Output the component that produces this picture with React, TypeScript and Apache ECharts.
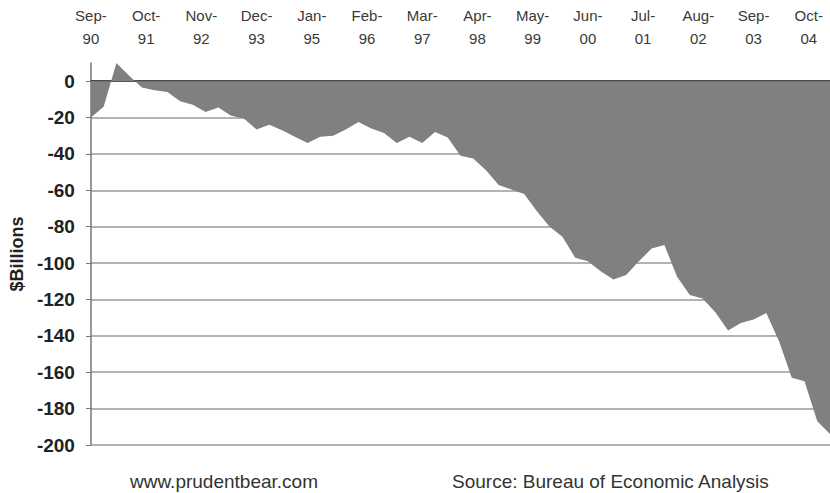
import React, { useEffect, useRef } from "react";
import * as echarts from "echarts";

const MONTHS = ["Jan", "Feb", "Mar", "Apr", "May", "Jun", "Jul", "Aug", "Sep", "Oct", "Nov", "Dec"];
const START_YEAR = 1990;
const START_MONTH = 8; // Sep
const MONTH_COUNT = 175; // Sep-90 .. Mar-05

// monthly category axis (labels every 13 months, as in the original)
const categories: string[] = Array.from({ length: MONTH_COUNT }, (_, i) => {
  const m = (START_MONTH + i) % 12;
  const y = START_YEAR + Math.floor((START_MONTH + i) / 12);
  return `${MONTHS[m]}-\n${String(y % 100).padStart(2, "0")}`;
});

// quarterly values ($ billions), Sep-90 .. Mar-05
const quarterlyValues: number[] = [
  -20, -14, 10, 3, -3.5, -5, -6, -11, -13, -17,
  -14.5, -19, -20.5, -26.5, -24, -27, -30.5, -34, -30.5, -30,
  -26.5, -22.5, -26, -28.5, -34, -30.5, -34, -28, -31, -41,
  -42.5, -49, -57, -59.5, -62, -71.5, -80, -85.5, -97, -99,
  -104.5, -109, -106.5, -99, -92, -90, -107.5, -117.5, -119.5, -127,
  -137, -133, -131, -127.5, -143, -163, -165, -187, -194,
];
const QUARTER_STEP = 3;

const yTickValues = [-200, -180, -160, -140, -120, -100, -80, -60, -40, -20, 0];

const FONT = "'Liberation Sans', Arial, sans-serif";

export default function App() {
  const ref = useRef<HTMLDivElement>(null);
  useEffect(() => {
    if (!ref.current) return;
    const chart = echarts.init(ref.current, undefined, { renderer: "svg" });
    const seriesData: (number | null)[] = categories.map(() => null);
    quarterlyValues.forEach((v, k) => {
      seriesData[k * QUARTER_STEP] = v;
    });
    const splitColors = Array.from({ length: 12 }, (_, i) => (i < 11 ? "#9a9a9a" : "rgba(0,0,0,0)"));
    chart.setOption({
      animation: false,
      backgroundColor: "#ffffff",
      grid: { left: 85, right: 0, top: 63, bottom: 48, containLabel: false },
      xAxis: [
        {
          type: "category",
          data: categories,
          position: "top",
          boundaryGap: false,
          axisLine: { show: false, onZero: false },
          axisTick: { show: false },
          axisLabel: {
            interval: 12,
            margin: 13,
            color: "#3a3a3a",
            fontFamily: FONT,
            fontSize: 15,
            lineHeight: 23,
          },
          splitLine: { show: false },
        },
        {
          type: "category",
          data: categories,
          position: "bottom",
          boundaryGap: false,
          axisLine: { show: true, onZero: true, lineStyle: { color: "#4a4a4a", width: 2 } },
          axisTick: { show: true, interval: 12, length: 4, lineStyle: { color: "#4a4a4a", width: 1 } },
          axisLabel: { show: false },
          splitLine: { show: false },
        },
      ],
      yAxis: {
        type: "value",
        min: -200,
        max: 10,
        interval: 20,
        name: "$Billions",
        nameLocation: "middle",
        nameRotate: 90,
        nameGap: 62,
        nameTextStyle: { fontFamily: FONT, fontSize: 18, fontWeight: "bold", color: "#222" },
        axisLine: { show: true, lineStyle: { color: "#777", width: 1.5 } },
        axisTick: { show: true, length: 5, customValues: yTickValues, lineStyle: { color: "#777" } },
        axisLabel: {
          customValues: yTickValues,
          margin: 16,
          fontFamily: FONT,
          fontSize: 19,
          fontWeight: "bold",
          color: "#222",
        },
        splitLine: { show: true, lineStyle: { color: splitColors, width: 1.5 } },
      },
      series: [
        {
          type: "line",
          xAxisIndex: 0,
          data: seriesData,
          connectNulls: true,
          symbol: "none",
          lineStyle: { width: 0, color: "#808080" },
          itemStyle: { color: "#808080" },
          areaStyle: { color: "#808080", opacity: 1 },
        },
      ],
      graphic: [
        {
          type: "text",
          left: 130,
          top: 472,
          style: { text: "www.prudentbear.com", fontFamily: FONT, fontSize: 19, fill: "#333" },
        },
        {
          type: "text",
          left: 452,
          top: 472,
          style: { text: "Source: Bureau of Economic Analysis", fontFamily: FONT, fontSize: 19, fill: "#333" },
        },
      ],
    });
    return () => chart.dispose();
  }, []);
  return <div ref={ref} style={{ position: "absolute", left: 0, top: 0, width: 830, height: 493 }} />;
}
